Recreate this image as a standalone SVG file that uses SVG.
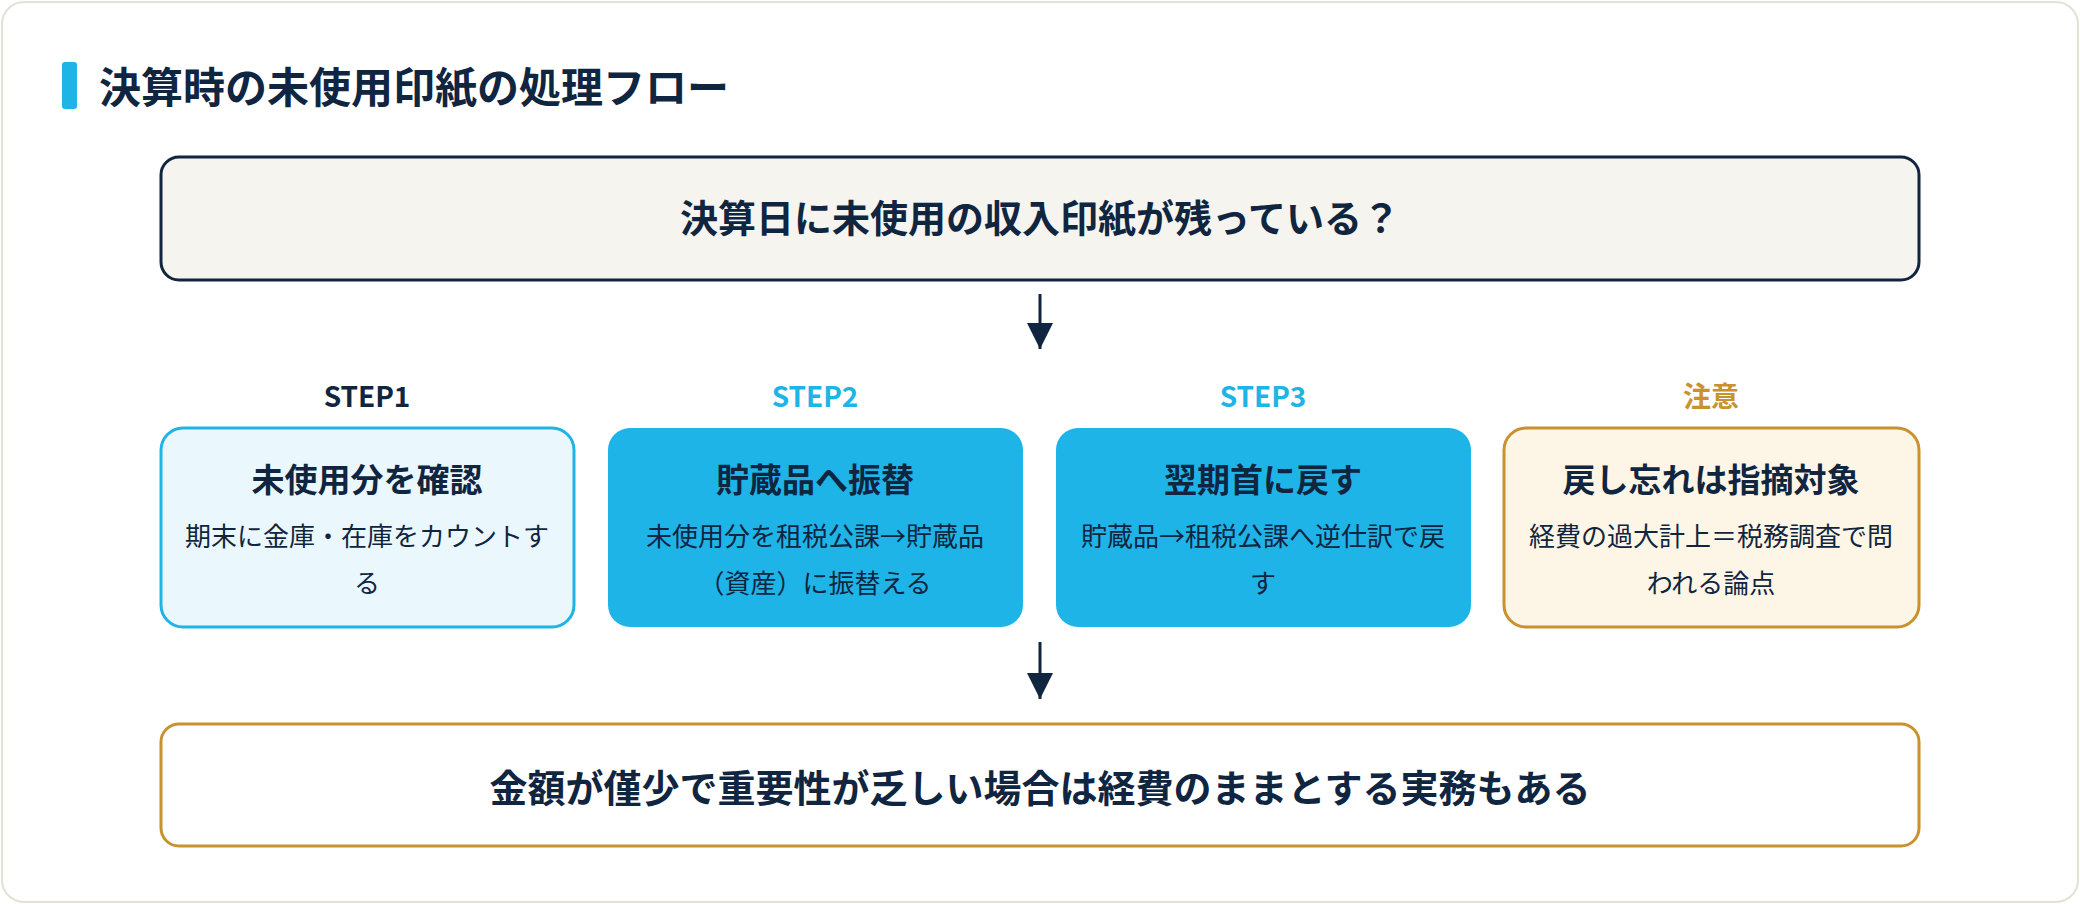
<svg xmlns="http://www.w3.org/2000/svg" width="2080" height="904" viewBox="0 0 2080 904">
<defs>
<style>
text{font-family:"Noto Sans CJK JP","Noto Sans",sans-serif;text-anchor:middle}
.t{font-weight:700;fill:#10253f}
.w{fill:#10253f}
.conn line{stroke:#10253f;stroke-width:3}
</style>
<marker id="a" viewBox="0 0 10 10" refX="10" refY="5" markerWidth="28" markerHeight="26" markerUnits="userSpaceOnUse" orient="auto"><path d="M0,0L10,5L0,10z" fill="#10253f"/></marker>
</defs>
<rect x="2" y="2" width="2076" height="900" rx="22" fill="#ffffff" stroke="#e4e1d3" stroke-width="2"/>
<g id="title">
<rect x="62" y="62" width="15" height="47" rx="3" fill="#1eb4e8"/>
<text x="99" y="103" class="t" font-size="42" style="text-anchor:start">決算時の未使用印紙の処理フロー</text>
</g>
<g id="question">
<rect x="161" y="157" width="1758" height="123" rx="18" fill="#f5f4ef" stroke="#10253f" stroke-width="3"/>
<text x="1040" y="232" class="t" font-size="38">決算日に未使用の収入印紙が残っている？</text>
</g>
<g id="step1">
<text x="367" y="407" class="t" font-size="28">STEP1</text>
<rect x="161" y="428" width="413" height="199" rx="22" fill="#eaf7fd" stroke="#1eb4e8" stroke-width="3"/>
<text x="367" y="492" class="t" font-size="33">未使用分を確認</text>
<text x="367" y="546" class="w" font-size="26">期末に金庫・在庫をカウントす</text>
<text x="367" y="593" class="w" font-size="26">る</text>
</g>
<g id="step2">
<text x="815" y="407" class="t" font-size="28" style="fill:#1eb4e8">STEP2</text>
<rect x="608" y="428" width="415" height="199" rx="22" fill="#1eb4e8"/>
<text x="815" y="492" class="t" font-size="33">貯蔵品へ振替</text>
<text x="815" y="546" class="w" font-size="26">未使用分を租税公課→貯蔵品</text>
<text x="815" y="593" class="w" font-size="26">（資産）に振替える</text>
</g>
<g id="step3">
<text x="1263" y="407" class="t" font-size="28" style="fill:#1eb4e8">STEP3</text>
<rect x="1056" y="428" width="415" height="199" rx="22" fill="#1eb4e8"/>
<text x="1263" y="492" class="t" font-size="33">翌期首に戻す</text>
<text x="1263" y="546" class="w" font-size="26">貯蔵品→租税公課へ逆仕訳で戻</text>
<text x="1263" y="593" class="w" font-size="26">す</text>
</g>
<g id="note">
<text x="1711" y="407" class="t" font-size="28" style="fill:#c8922f">注意</text>
<rect x="1504" y="428" width="415" height="199" rx="22" fill="#fdf5e6" stroke="#c8922f" stroke-width="3"/>
<text x="1711" y="492" class="t" font-size="33">戻し忘れは指摘対象</text>
<text x="1711" y="546" class="w" font-size="26">経費の過大計上＝税務調査で問</text>
<text x="1711" y="593" class="w" font-size="26">われる論点</text>
</g>
<g id="conclusion">
<rect x="161" y="724" width="1758" height="122" rx="18" fill="#ffffff" stroke="#c8922f" stroke-width="3"/>
<text x="1040" y="802" class="t" font-size="38">金額が僅少で重要性が乏しい場合は経費のままとする実務もある</text>
</g>
<g class="conn" id="connectors">
<line x1="1040" y1="294" x2="1040" y2="349" marker-end="url(#a)"/>
<line x1="1040" y1="642" x2="1040" y2="699" marker-end="url(#a)"/>
</g>
</svg>
